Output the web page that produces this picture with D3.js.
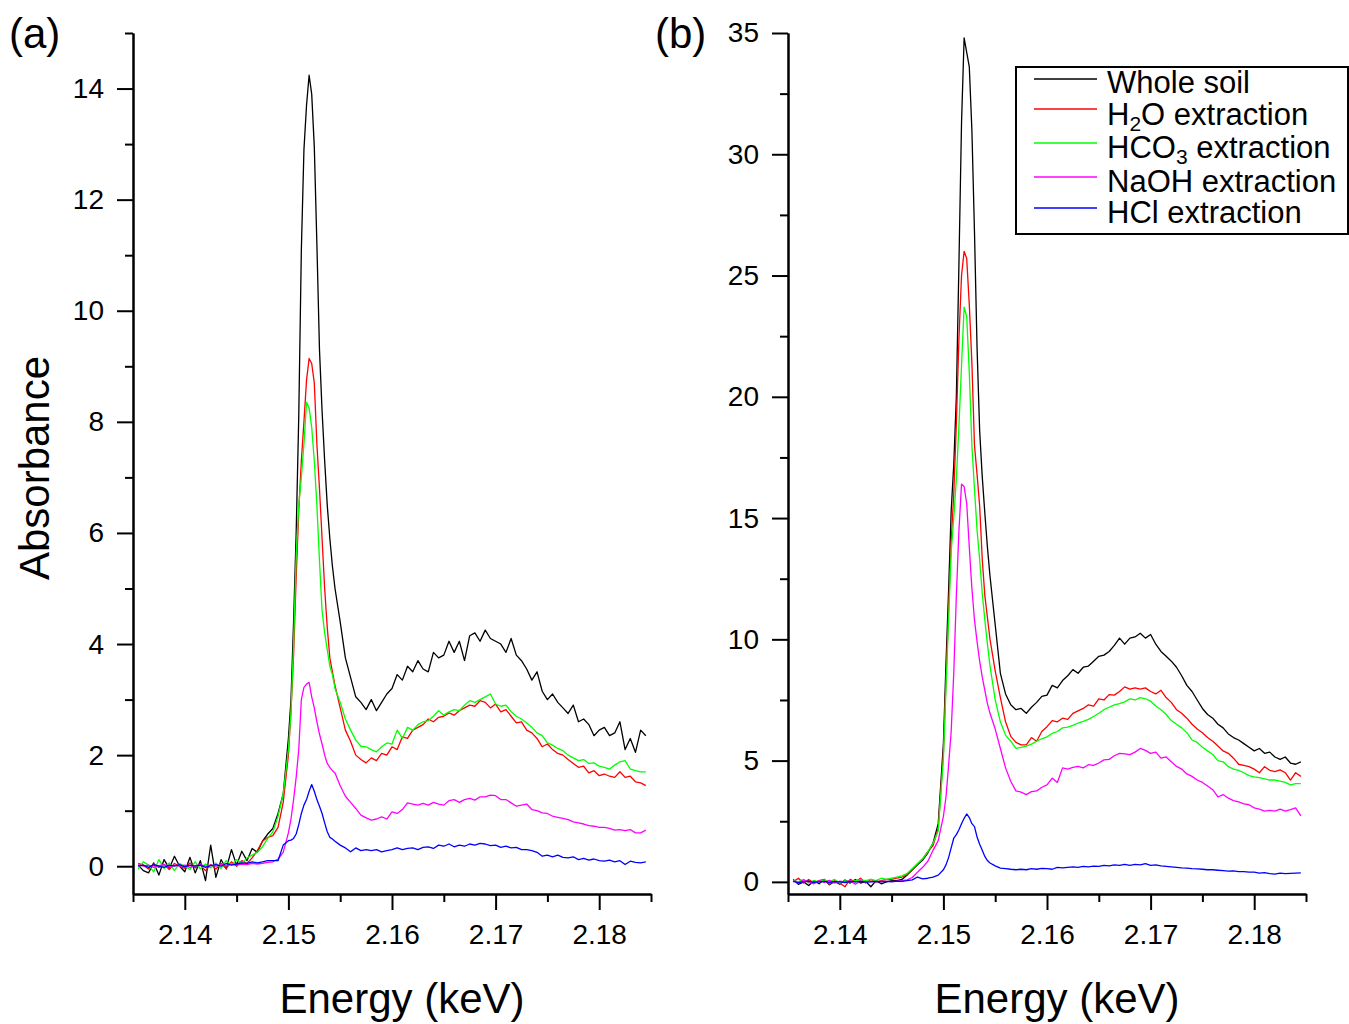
<!DOCTYPE html>
<html><head><meta charset="utf-8">
<script src="https://cdn.jsdelivr.net/npm/d3@7"></script>
<style>
body{margin:0;background:#fff;}
svg{display:block;}
text{font-family:"Liberation Sans",Arial,Helvetica,sans-serif;fill:#000;}
</style></head><body>
<svg id="chart" width="1349" height="1024"></svg>
<script>
// ---------- data ----------
const energy = [2.1355,2.136,2.1365,2.137,2.1375,2.138,2.1385,2.139,2.1395,2.14,
2.1405,2.141,2.1415,2.142,2.1425,2.143,2.1435,2.144,2.1445,2.145,
2.1455,2.146,2.1465,2.147,2.1475,2.148,2.1485,2.149,2.1495,2.15,
2.15025,2.1505,2.15075,2.151,2.15125,2.1515,2.15175,2.152,2.15225,2.1525,
2.15275,2.153,2.15325,2.1535,2.15375,2.154,2.15425,2.1545,
2.155,2.1555,2.156,2.1565,2.157,2.1575,2.158,2.1585,2.159,2.1595,
2.16,2.1605,2.161,2.1615,2.162,2.1625,2.163,2.1635,2.164,2.1645,
2.165,2.1655,2.166,2.1665,2.167,2.1675,2.168,2.1685,2.169,2.1695,
2.17,2.1705,2.171,2.1715,2.172,2.1725,2.173,2.1735,2.174,2.1745,
2.175,2.1755,2.176,2.1765,2.177,2.1775,2.178,2.1785,2.179,2.1795,
2.18,2.1805,2.181,2.1815,2.182,2.1825,2.183,2.1835,2.184,2.1845];

const seriesNames = ["Whole soil","H2O extraction","HCO3 extraction","NaOH extraction","HCl extraction"];
const seriesColors = ["#000000","#ff0000","#00ff00","#ff00ff","#0000ff"];

// Panel (a)
const wholeSoilA = [0.02,-0.08,-0.12,0.06,-0.16,0.12,-0.04,0.18,0.0,-0.1,
0.16,-0.12,0.1,-0.26,0.38,-0.2,0.12,-0.05,0.3,0.02,
0.27,0.1,0.32,0.25,0.45,0.58,0.68,0.95,1.3,2.3,
3.0,4.4,6.0,8.1,11.1,12.9,13.7,14.24,13.9,12.95,
11.2,9.3,8.2,7.3,6.5,5.9,5.4,5.0,
4.4,3.75,3.4,3.05,2.95,2.82,3.0,2.8,2.95,3.1,
3.2,3.45,3.35,3.6,3.5,3.7,3.55,3.5,3.85,3.75,
3.8,4.05,3.85,4.05,3.7,4.15,4.2,4.05,4.25,4.1,
4.05,4.0,3.85,4.1,3.8,3.7,3.55,3.35,3.5,3.15,
3.0,3.1,2.95,2.85,2.75,2.9,2.6,2.65,2.55,2.35,
2.45,2.5,2.35,2.4,2.6,2.1,2.3,2.05,2.45,2.35];
const waterA = [0.05,0.02,-0.05,0.04,-0.02,0.03,-0.06,0.05,0.0,-0.04,
0.06,-0.03,0.02,-0.08,0.03,-0.05,0.05,-0.04,0.08,0.0,
0.1,0.05,0.15,0.28,0.45,0.52,0.55,0.7,1.15,2.0,
2.8,3.8,5.2,6.4,7.3,8.0,8.75,9.14,9.05,8.7,
7.6,6.8,5.9,5.0,4.3,3.75,3.5,3.25,
2.85,2.45,2.25,2.0,1.92,1.86,1.95,1.9,2.03,2.0,
2.15,2.1,2.33,2.3,2.45,2.5,2.55,2.65,2.6,2.68,
2.7,2.76,2.72,2.8,2.85,2.9,2.88,2.98,2.95,2.85,
2.92,2.78,2.82,2.7,2.58,2.6,2.45,2.4,2.3,2.15,
2.2,2.1,2.03,2.0,1.92,1.85,1.78,1.8,1.68,1.72,
1.63,1.66,1.62,1.6,1.7,1.6,1.62,1.52,1.5,1.45];
const bicarbA = [-0.05,0.08,0.02,-0.1,0.12,-0.04,0.06,-0.08,0.05,0.0,
-0.06,0.08,-0.05,0.04,-0.03,0.06,-0.04,0.1,0.02,0.12,
0.05,0.15,0.2,0.25,0.35,0.5,0.62,0.9,1.3,2.1,
2.76,4.0,5.6,6.5,7.0,7.6,8.35,8.25,7.9,7.3,
6.5,5.5,4.6,4.2,3.9,3.6,3.45,3.2,
2.95,2.65,2.45,2.27,2.16,2.15,2.1,2.06,2.15,2.22,
2.2,2.45,2.3,2.5,2.45,2.55,2.6,2.62,2.7,2.8,
2.72,2.78,2.82,2.8,2.9,2.98,2.95,3.0,3.05,3.1,
2.92,2.88,2.9,2.78,2.7,2.65,2.58,2.5,2.4,2.35,
2.22,2.18,2.12,2.08,2.0,1.95,1.9,1.92,1.85,1.86,
1.8,1.78,1.75,1.82,1.88,1.9,1.75,1.72,1.7,1.7];
const naohA = [0.03,0.0,0.02,-0.02,0.01,0.03,-0.01,0.02,0.0,0.02,
-0.02,0.01,0.03,0.0,0.02,0.0,0.03,0.01,0.04,0.02,
0.04,0.03,0.05,0.04,0.05,0.07,0.08,0.13,0.25,0.6,
0.85,1.2,1.6,2.1,3.0,3.22,3.28,3.31,3.05,2.85,
2.6,2.38,2.2,2.0,1.85,1.78,1.72,1.68,
1.45,1.26,1.15,1.04,0.92,0.87,0.83,0.85,0.89,0.85,
0.98,0.95,1.02,1.14,1.12,1.1,1.13,1.1,1.15,1.12,
1.1,1.18,1.2,1.15,1.2,1.22,1.19,1.25,1.25,1.28,
1.27,1.2,1.2,1.14,1.08,1.1,1.12,1.02,1.0,0.96,
0.95,0.9,0.88,0.86,0.84,0.8,0.78,0.76,0.73,0.72,
0.7,0.7,0.68,0.65,0.66,0.64,0.66,0.6,0.6,0.65];
const hclA = [0.0,0.02,-0.02,0.03,0.0,-0.02,0.02,0.0,0.03,-0.01,
0.02,0.0,0.02,-0.02,0.01,0.03,0.0,0.05,0.02,0.04,
0.06,0.05,0.08,0.06,0.08,0.1,0.1,0.1,0.38,0.46,
0.47,0.5,0.58,0.75,0.95,1.1,1.2,1.35,1.47,1.35,
1.2,1.08,0.95,0.78,0.62,0.52,0.49,0.45,
0.38,0.33,0.26,0.33,0.28,0.3,0.28,0.3,0.26,0.28,
0.3,0.33,0.3,0.32,0.33,0.3,0.34,0.35,0.32,0.38,
0.36,0.4,0.35,0.38,0.36,0.4,0.38,0.41,0.4,0.37,
0.38,0.34,0.36,0.33,0.34,0.3,0.3,0.28,0.25,0.18,
0.2,0.17,0.2,0.16,0.15,0.17,0.12,0.14,0.11,0.13,
0.1,0.09,0.11,0.08,0.1,0.03,0.09,0.07,0.06,0.08];

// Panel (b)
const wholeSoilB = [0.1,-0.1,0.0,-0.15,0.05,-0.08,0.1,-0.12,0.02,-0.1,
0.08,-0.05,0.1,-0.05,0.02,-0.2,0.05,-0.08,0.0,0.05,
0.05,0.1,0.28,0.5,0.7,0.9,1.2,1.6,2.4,5.7,
9.0,12.0,15.3,17.2,20.0,25.5,31.3,34.8,34.2,33.6,
31.0,26.8,22.0,18.6,16.7,15.2,13.8,12.6,
10.6,8.6,7.75,7.3,7.1,7.15,6.95,7.2,7.4,7.65,
7.7,8.1,8.0,8.3,8.5,8.75,8.6,8.85,8.9,9.1,
9.3,9.35,9.5,9.75,10.05,9.8,10.05,10.1,10.25,10.05,
10.2,9.8,9.5,9.3,9.1,8.85,8.5,8.1,7.85,7.5,
7.15,6.9,6.75,6.5,6.35,6.1,5.95,5.85,5.7,5.55,
5.4,5.5,5.3,5.35,5.15,5.05,5.15,4.9,4.85,4.95];
const waterB = [0.0,0.15,-0.05,0.1,-0.05,0.05,0.1,-0.1,0.05,-0.05,
-0.2,0.1,0.0,0.15,-0.05,0.1,0.0,0.05,0.1,0.1,
0.15,0.2,0.3,0.5,0.75,0.95,1.25,1.5,2.2,5.3,
8.3,11.2,14.0,16.0,18.9,22.4,25.0,26.0,25.7,23.8,
21.4,18.0,16.8,15.5,13.3,11.8,10.9,10.0,
8.7,7.6,6.6,6.0,5.75,5.65,5.65,5.95,5.8,6.2,
6.4,6.65,6.6,6.75,6.7,6.95,7.05,7.15,7.3,7.25,
7.55,7.5,7.72,7.7,7.85,8.04,7.95,8.0,7.95,8.0,
7.85,7.75,7.9,7.6,7.4,7.1,6.95,6.75,6.5,6.3,
6.15,5.95,5.8,5.6,5.4,5.3,5.1,4.85,4.8,4.75,
4.65,4.5,4.75,4.6,4.55,4.62,4.5,4.2,4.5,4.35];
const bicarbB = [0.05,0.0,0.1,-0.05,0.05,0.0,0.08,0.0,0.1,-0.05,
0.05,0.0,0.05,0.08,0.05,0.1,0.05,0.15,0.1,0.15,
0.2,0.25,0.35,0.55,0.75,0.95,1.25,1.6,2.1,5.1,
8.0,10.8,13.6,15.0,16.6,18.8,21.3,23.7,23.3,21.0,
18.0,16.2,14.5,13.3,11.9,10.8,9.8,8.9,
7.5,6.6,6.05,5.8,5.5,5.55,5.6,5.68,5.8,5.9,
5.98,6.12,6.2,6.35,6.38,6.45,6.55,6.62,6.7,6.82,
6.95,7.1,7.2,7.3,7.35,7.42,7.55,7.5,7.6,7.55,
7.45,7.25,7.1,6.9,6.65,6.5,6.35,6.15,5.85,5.75,
5.55,5.4,5.25,5.0,4.95,4.75,4.65,4.6,4.5,4.38,
4.33,4.3,4.25,4.2,4.2,4.15,4.1,4.0,4.05,4.05];
const naohB = [0.05,-0.05,0.08,0.0,-0.08,0.05,-0.02,0.06,-0.05,0.03,
0.0,0.05,-0.1,0.04,0.0,0.02,0.0,0.03,0.02,0.02,
0.03,0.05,0.08,0.18,0.4,0.6,0.85,1.3,1.7,2.7,
3.5,4.8,6.2,8.6,11.8,14.5,16.4,16.3,15.6,13.8,
12.1,10.8,9.9,9.1,8.45,7.9,7.35,6.95,
6.3,5.5,4.7,4.15,3.75,3.7,3.6,3.72,3.75,3.9,
4.0,4.28,4.1,4.7,4.65,4.72,4.76,4.7,4.83,4.8,
4.9,5.03,5.05,5.2,5.3,5.28,5.25,5.35,5.5,5.42,
5.3,5.35,5.1,5.15,4.95,4.76,4.65,4.45,4.35,4.2,
4.1,3.95,3.8,3.5,3.6,3.45,3.35,3.3,3.22,3.18,
3.05,3.0,2.92,2.95,2.92,3.0,2.92,2.98,3.05,2.72];
const hclB = [0.02,-0.03,0.0,0.03,-0.02,0.0,0.02,-0.02,0.01,0.0,
-0.03,0.02,0.0,0.02,-0.01,0.0,0.02,0.0,0.02,0.0,
0.03,0.02,0.05,0.08,0.2,0.12,0.15,0.2,0.28,0.5,
0.7,1.0,1.4,1.8,1.95,2.15,2.4,2.62,2.8,2.65,
2.4,2.28,1.85,1.55,1.3,1.05,0.88,0.78,
0.66,0.57,0.55,0.52,0.5,0.52,0.5,0.55,0.52,0.56,
0.55,0.52,0.6,0.58,0.6,0.62,0.6,0.64,0.62,0.65,
0.64,0.68,0.66,0.7,0.68,0.72,0.68,0.72,0.7,0.75,
0.68,0.7,0.66,0.64,0.62,0.6,0.58,0.57,0.55,0.54,
0.52,0.5,0.5,0.48,0.46,0.44,0.45,0.42,0.42,0.4,
0.4,0.36,0.38,0.34,0.32,0.36,0.34,0.35,0.36,0.37];

const xMajorTicks = [2.14,2.15,2.16,2.17,2.18];
const xMinorTicks = [2.135,2.145,2.155,2.165,2.175,2.185];
const yMajorTicksA = [0,2,4,6,8,10,12,14];
const yMinorTicksA = [1,3,5,7,9,11,13,15];
const yMajorTicksB = [0,5,10,15,20,25,30,35];
const yMinorTicksB = [2.5,7.5,12.5,17.5,22.5,27.5,32.5];

// ---------- drawing ----------
const svg = d3.select("#chart");
const TOP = 33, BOTTOM = 894, PW = 518;

function drawPanel(cfg){
  const x = d3.scaleLinear().domain([2.135, 2.185]).range([cfg.left, cfg.left + PW]);
  const y = d3.scaleLinear().domain([-0.5, cfg.yMax]).range([BOTTOM, TOP]);
  const g = svg.append("g");
  const line = d3.line().x(d => x(d.e)).y(d => y(d.v));
  cfg.series.forEach((arr, k) => {
    const pts = energy.map((e, i) => ({e: e, v: arr[i]}));
    g.append("path").datum(pts).attr("d", line)
      .attr("fill", "none").attr("stroke", seriesColors[k])
      .attr("stroke-width", 1.3).attr("stroke-linejoin", "round");
  });
  // x axis
  const xa = g.append("g").attr("transform", `translate(0,${BOTTOM})`)
    .call(d3.axisBottom(x).tickValues(xMajorTicks).tickSize(16).tickSizeOuter(0)
      .tickPadding(14).tickFormat(d3.format(".2f")));
  const xm = g.append("g").attr("transform", `translate(0,${BOTTOM})`)
    .call(d3.axisBottom(x).tickValues(xMinorTicks).tickSize(8).tickSizeOuter(0).tickFormat(""));
  // y axis
  const ya = g.append("g").attr("transform", `translate(${cfg.left},0)`)
    .call(d3.axisLeft(y).tickValues(cfg.yMajor).tickSize(16).tickSizeOuter(0).tickPadding(13));
  const ym = g.append("g").attr("transform", `translate(${cfg.left},0)`)
    .call(d3.axisLeft(y).tickValues(cfg.yMinor).tickSize(8).tickSizeOuter(0).tickFormat(""));
  [xa, xm, ya, ym].forEach(a => {
    a.selectAll("path.domain").attr("stroke", "#000").attr("stroke-width", 2);
    a.selectAll(".tick line").attr("stroke", "#000").attr("stroke-width", 2);
    a.selectAll(".tick text").attr("font-size", 28).attr("fill", "#000")
      .attr("font-family", '"Liberation Sans",Arial,sans-serif');
  });
  // axis titles
  g.append("text").attr("x", cfg.left + PW / 2 + 10).attr("y", 1013)
    .attr("text-anchor", "middle").attr("font-size", 42).text("Energy (keV)");
  g.append("text").attr("x", cfg.tagX).attr("y", 48).attr("font-size", 42).text(cfg.tag);
  return {x, y, g};
}

drawPanel({left: 133, yMax: 15, yMajor: yMajorTicksA, yMinor: yMinorTicksA, tag: "(a)", tagX: 9,
  series: [wholeSoilA, waterA, bicarbA, naohA, hclA]});
drawPanel({left: 788, yMax: 35, yMajor: yMajorTicksB, yMinor: yMinorTicksB, tag: "(b)", tagX: 655,
  series: [wholeSoilB, waterB, bicarbB, naohB, hclB]});

svg.append("text").attr("transform", "translate(49,468) rotate(-90)")
  .attr("text-anchor", "middle").attr("font-size", 42).text("Absorbance");

// legend
const lg = svg.append("g");
lg.append("rect").attr("x", 1016).attr("y", 67).attr("width", 332).attr("height", 167)
  .attr("fill", "#fff").attr("stroke", "#000").attr("stroke-width", 2);
const rowY = [79, 109, 143, 177, 208];
const baseY = [93, 125, 158, 192, 223];
const legendParts = [
  [["Whole soil", 0]],
  [["H", 0], ["2", 1], ["O extraction", 0]],
  [["HCO", 0], ["3", 1], [" extraction", 0]],
  [["NaOH extraction", 0]],
  [["HCl extraction", 0]]
];
seriesNames.forEach((name, k) => {
  lg.append("line").attr("x1", 1034).attr("x2", 1097).attr("y1", rowY[k]).attr("y2", rowY[k])
    .attr("stroke", seriesColors[k]).attr("stroke-width", 1.3);
  const t = lg.append("text").attr("x", 1107).attr("y", baseY[k]).attr("font-size", 31);
  let sub = false;
  legendParts[k].forEach(([s, isSub]) => {
    const ts = t.append("tspan").text(s);
    if (isSub) { ts.attr("font-size", 21).attr("dy", 6); sub = true; }
    else if (sub) { ts.attr("dy", -6); sub = false; }
  });
});
</script>
</body></html>
